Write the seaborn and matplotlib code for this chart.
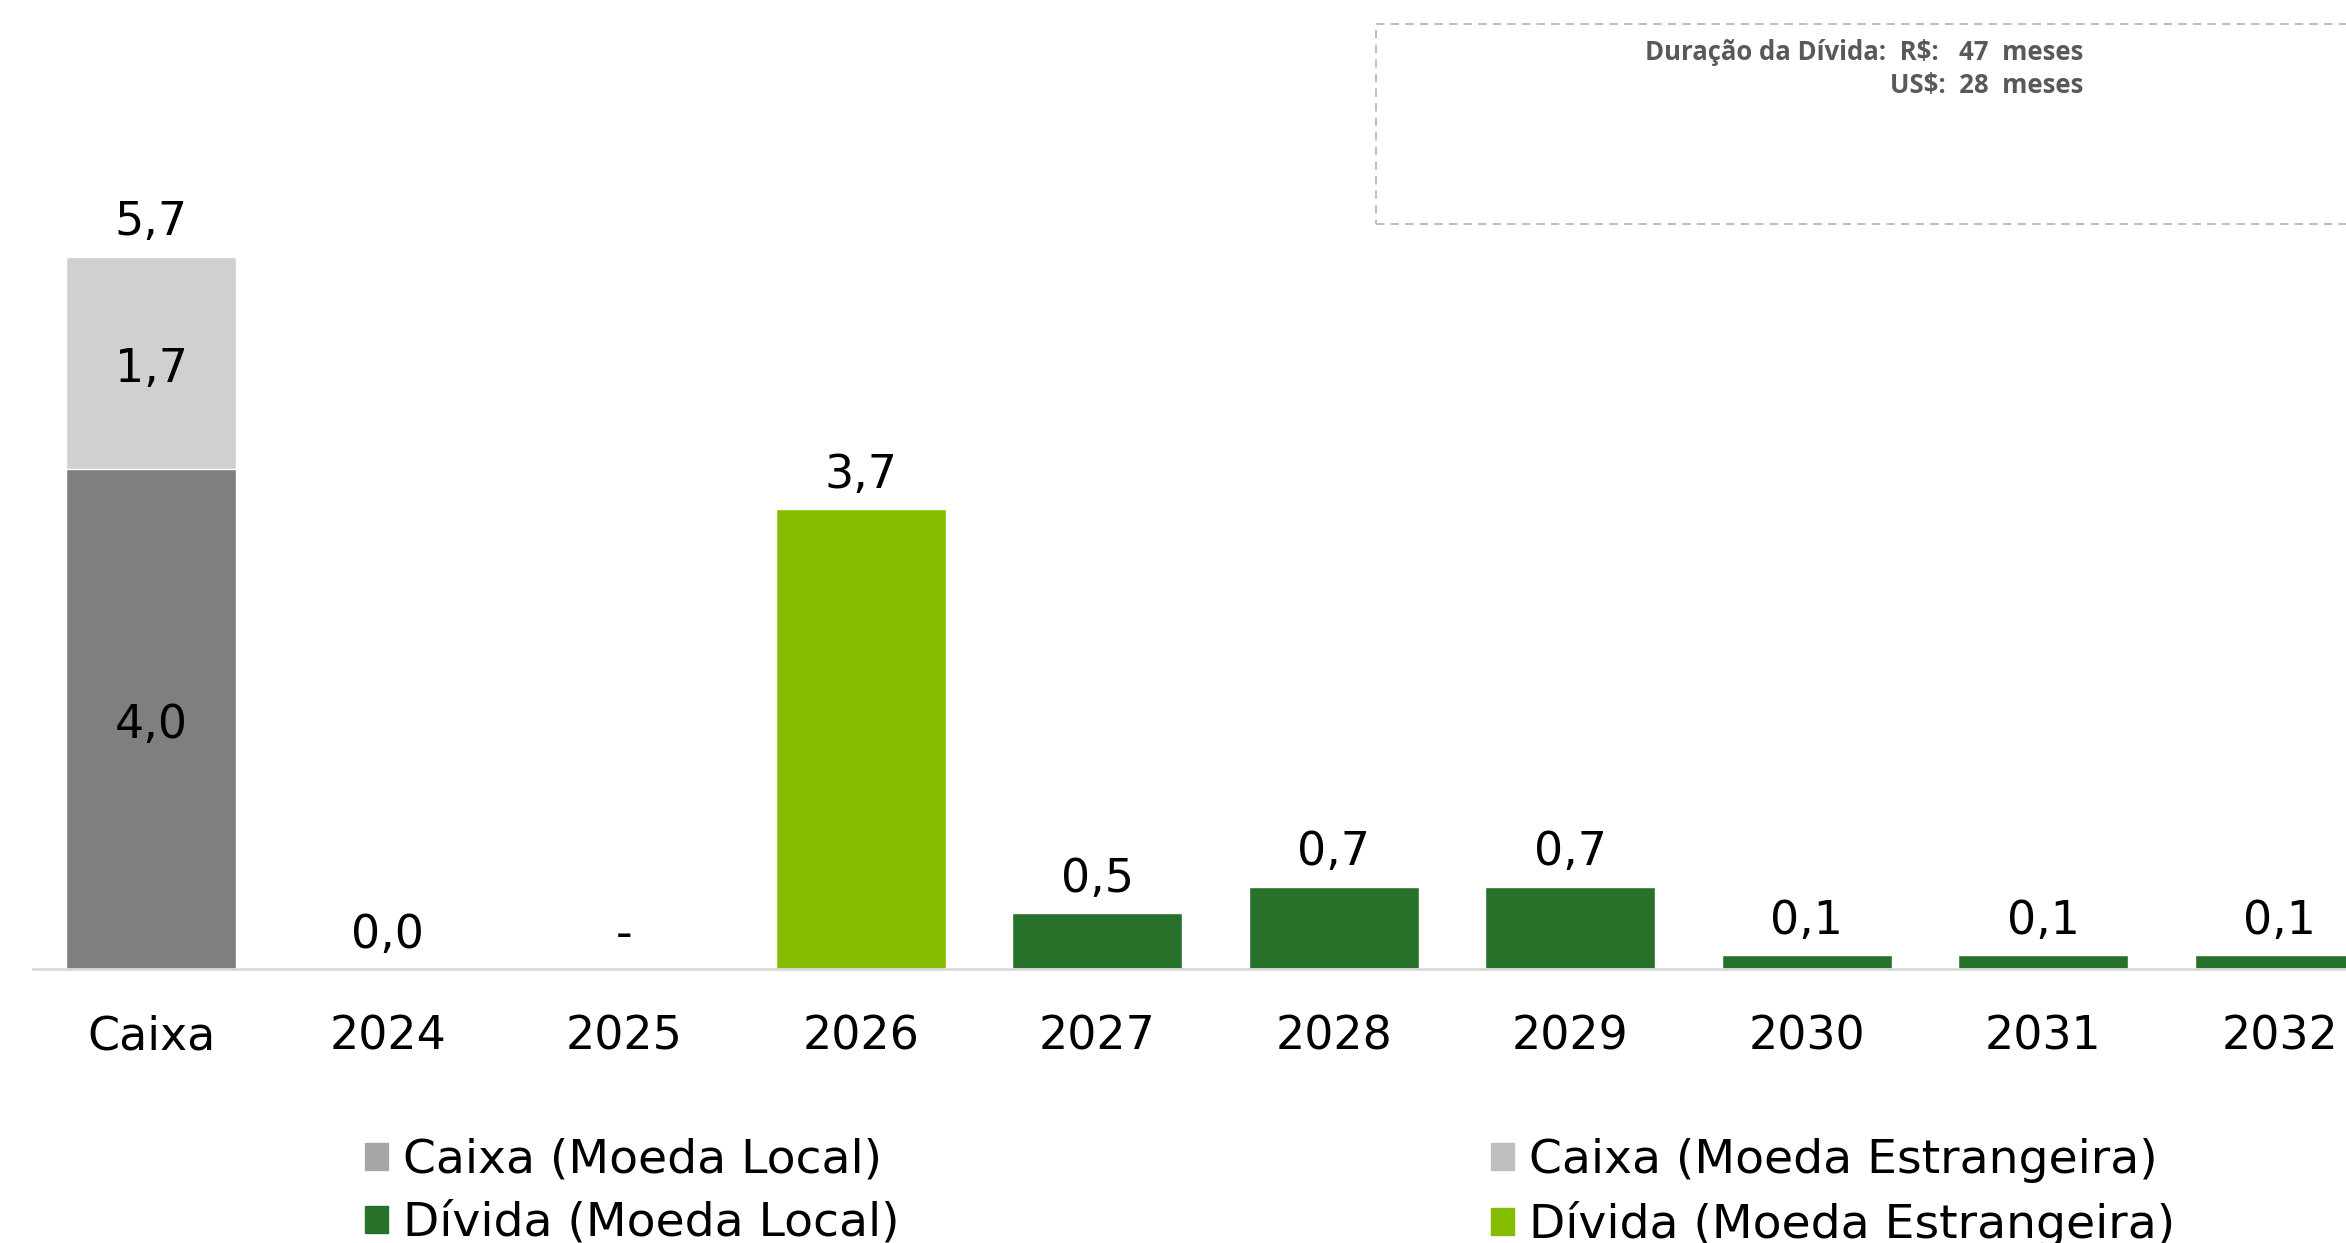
import numpy as np
import pandas as pd
import matplotlib
matplotlib.use("Agg")
import matplotlib.pyplot as plt
import seaborn as sns
from matplotlib.patches import Patch, Rectangle

# Data (R$ bilhões)
categorias = ["Caixa", "2024", "2025", "2026", "2027", "2028", "2029", "2030", "2031", "2032"]
caixa_local = [4.0, 0, 0, 0, 0, 0, 0, 0, 0, 0]
caixa_estrangeira = [1.7, 0, 0, 0, 0, 0, 0, 0, 0, 0]
divida_local = [0, 0, 0, 0, 0.45, 0.66, 0.66, 0.11, 0.11, 0.11]
divida_estrangeira = [0, 0, 0, 3.68, 0, 0, 0, 0, 0, 0]
rotulos_topo = ["5,7", "0,0", "-", "3,7", "0,5", "0,7", "0,7", "0,1", "0,1", "0,1"]
rotulos_caixa = ["4,0", "1,7"]

cor_caixa_local = "#7F7F7F"
cor_caixa_estr = "#D0D0D0"
cor_div_local = "#28712B"
cor_div_estr = "#86BC00"

df = pd.DataFrame({
    "cat": categorias,
    "caixa_local": caixa_local,
    "caixa_estr": caixa_estrangeira,
    "div_local": divida_local,
    "div_estr": divida_estrangeira,
})
df["total"] = df[["caixa_local", "caixa_estr", "div_local", "div_estr"]].sum(axis=1)

# cor da barra "total": camada de cima de cada coluna
cores = {}
for _, r in df.iterrows():
    if r["caixa_estr"] > 0:
        cores[r["cat"]] = cor_caixa_estr
    elif r["div_estr"] > 0:
        cores[r["cat"]] = cor_div_estr
    else:
        cores[r["cat"]] = cor_div_local

sns.set_theme(style="white")
plt.rcParams["font.family"] = ["DejaVu Sans"]

fig = plt.figure(figsize=(23.46, 12.43), dpi=100)
ax = fig.add_axes([0.0141, 0.2204, 0.9859, 0.7796])

sns.barplot(data=df, x="cat", y="total", hue="cat", palette=cores, legend=False,
            width=0.72, saturation=1, order=categorias, ax=ax)
sns.barplot(data=df, x="cat", y="caixa_local", color=cor_caixa_local,
            width=0.72, saturation=1, order=categorias, ax=ax)

ax.set_ylim(0, 7.752)
ax.set_xlim(-0.5, 9.28)
ax.set_xlabel("")
ax.set_ylabel("")
ax.set_yticks([])
for s in ["top", "right", "left"]:
    ax.spines[s].set_visible(False)
ax.spines["bottom"].set_color("#D9D9D9")
ax.spines["bottom"].set_linewidth(2)
ax.tick_params(axis="x", length=0, pad=33, labelsize=33, labelcolor="black")

# rótulos de dados
for i, (t, v) in enumerate(zip(rotulos_topo, df["total"])):
    ax.text(i, v + 0.27, t, ha="center", va="center", fontsize=33, color="black")
ax.text(0, caixa_local[0] / 2 - 0.05, rotulos_caixa[0], ha="center", va="center",
        fontsize=33, color="black")
ax.text(0, caixa_local[0] + caixa_estrangeira[0] / 2 - 0.05, rotulos_caixa[1], ha="center",
        va="center", fontsize=33, color="black")

# caixa tracejada com duração
fig.patches.append(Rectangle((0.5865, 0.8198), 0.5, 0.1609, transform=fig.transFigure,
                             fill=False, edgecolor="#BFBFBF", linestyle=(0, (4, 3)), linewidth=1.5))
fig.text(0.888, 0.958, "Duração da Dívida:  R$:   47  meses", ha="right", va="center",
         fontsize=18.5, fontweight="bold", color="#595959", family=["Open Sans", "DejaVu Sans"])
fig.text(0.888, 0.931, "US$:  28  meses", ha="right", va="center",
         fontsize=18.5, fontweight="bold", color="#595959", family=["Open Sans", "DejaVu Sans"])

# legenda
h1 = [Patch(color="#A6A6A6", label="Caixa (Moeda Local)"),
      Patch(color=cor_div_local, label="Dívida (Moeda Local)")]
h2 = [Patch(color="#BFBFBF", label="Caixa (Moeda Estrangeira)"),
      Patch(color=cor_div_estr, label="Dívida (Moeda Estrangeira)")]
kw = dict(frameon=False, fontsize=34, handlelength=0.5, handleheight=0.5, labelcolor="black",
          handletextpad=0.3, labelspacing=0.38, borderpad=0, borderaxespad=0)
leg1 = fig.legend(handles=h1, loc="upper left", bbox_to_anchor=(0.1555, 0.0845), **kw)
leg2 = fig.legend(handles=h2, loc="upper left", bbox_to_anchor=(0.6355, 0.0845), **kw)

fig.savefig("out.png", dpi=100)
